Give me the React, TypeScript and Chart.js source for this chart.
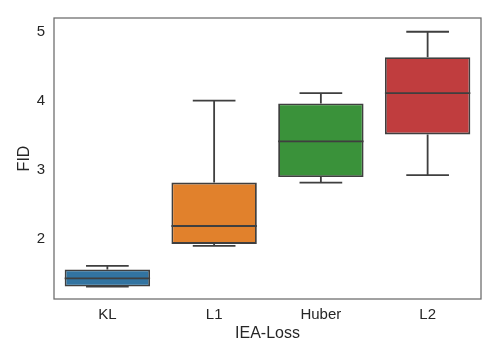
import { useEffect, useRef } from "react";
import { Chart, registerables } from "chart.js";

Chart.register(...registerables);

const CATEGORIES = ["KL", "L1", "Huber", "L2"];
const WHISKER_LOW = [1.3, 1.89, 2.81, 2.92];
const Q1 = [1.3, 1.92, 2.89, 3.51];
const MEDIAN = [1.42, 2.18, 3.41, 4.11];
const Q3 = [1.55, 2.81, 3.96, 4.63];
const WHISKER_HIGH = [1.6, 4.0, 4.11, 5.0];
const Y_TICKS = [2, 3, 4, 5];
const COLORS = ["#3274a1", "#e1812c", "#3a923a", "#c03d3e"];

const LINE = "#3f3f3f";
const FONT = "'Liberation Sans', Arial, sans-serif";

const boxExtras = {
  id: "boxExtras",
  afterDatasetsDraw(chart: any) {
    const ctx = chart.ctx;
    const y = chart.scales.y;
    const meta = chart.getDatasetMeta(0);
    ctx.save();
    ctx.strokeStyle = LINE;
    ctx.lineWidth = 1.8;
    meta.data.forEach((el: any, i: number) => {
      const x = el.x;
      const w = el.width;
      const yHi = y.getPixelForValue(WHISKER_HIGH[i]);
      const yLo = y.getPixelForValue(WHISKER_LOW[i]);
      const yQ3 = y.getPixelForValue(Q3[i]);
      const yQ1 = y.getPixelForValue(Q1[i]);
      const yMed = y.getPixelForValue(MEDIAN[i]);
      ctx.beginPath();
      ctx.moveTo(x, yQ3);
      ctx.lineTo(x, yHi);
      ctx.moveTo(x, yQ1);
      ctx.lineTo(x, yLo);
      ctx.moveTo(x - w / 4, yHi);
      ctx.lineTo(x + w / 4, yHi);
      ctx.moveTo(x - w / 4, yLo);
      ctx.lineTo(x + w / 4, yLo);
      ctx.moveTo(x - w / 2, yMed);
      ctx.lineTo(x + w / 2, yMed);
      ctx.stroke();
    });
    const a = chart.chartArea;
    ctx.strokeStyle = "#6a6a6a";
    ctx.lineWidth = 1.25;
    ctx.strokeRect(a.left, a.top, a.right - a.left, a.bottom - a.top);
    ctx.restore();
  },
};

export default function App() {
  const ref = useRef<HTMLCanvasElement | null>(null);
  useEffect(() => {
    if (!ref.current) return;
    const chart = new Chart(ref.current, {
      type: "bar",
      data: {
        labels: CATEGORIES,
        datasets: [
          {
            data: CATEGORIES.map((_, i) => [Q1[i], Q3[i]]) as any,
            backgroundColor: COLORS,
            borderColor: LINE,
            borderWidth: 1.8,
            borderSkipped: false,
            barPercentage: 0.8,
            categoryPercentage: 1.0,
          },
        ],
      },
      options: {
        responsive: false,
        animation: false,
        layout: { padding: { top: 17, right: 17, left: 0, bottom: 0 } },
        plugins: { legend: { display: false }, tooltip: { enabled: false } },
        scales: {
          x: {
            offset: true,
            grid: { display: false, drawTicks: false },
            border: { display: false },
            ticks: { color: "#262626", font: { family: FONT, size: 15 }, padding: 7 },
            title: {
              display: true,
              text: "IEA-Loss",
              color: "#262626",
              font: { family: FONT, size: 16 },
              padding: { top: 0, bottom: 16 },
            },
            afterFit(scale: any) {
              scale.height = 60;
            },
          },
          y: {
            min: 1.12,
            max: 5.2,
            grid: { display: false, drawTicks: false },
            border: { display: false },
            ticks: { color: "#262626", font: { family: FONT, size: 15 }, padding: 9 },
            afterBuildTicks(scale: any) {
              scale.ticks = Y_TICKS.map((v) => ({ value: v }));
            },
            title: {
              display: true,
              text: "FID",
              color: "#262626",
              font: { family: FONT, size: 16 },
              padding: { top: 15, bottom: 0 },
            },
            afterFit(scale: any) {
              scale.width = 54;
            },
          },
        },
      },
      plugins: [boxExtras],
    });
    return () => chart.destroy();
  }, []);
  return (
    <div style={{ position: "fixed", left: 0, top: 0, width: 498, height: 359, background: "#fff" }}>
      <canvas ref={ref} width={498} height={359} />
    </div>
  );
}
